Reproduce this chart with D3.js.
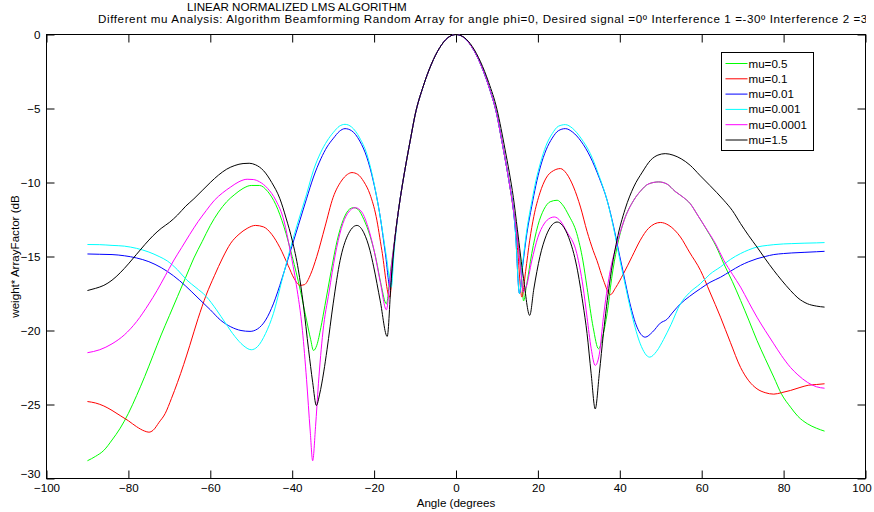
<!DOCTYPE html>
<html>
<head>
<meta charset="utf-8">
<script src="https://cdn.jsdelivr.net/npm/d3@7"></script>
<style>
  body { margin: 0; background: #fff; }
  text { font-family: "Liberation Sans", Arial, Helvetica, sans-serif; fill: #000; }
</style>
</head>
<body>
<svg id="chart" width="874" height="512"></svg>
<script>
// Axis ticks
const xTicks = [-100, -80, -60, -40, -20, 0, 20, 40, 60, 80, 100];
const yTicks = [0, -5, -10, -15, -20, -25, -30];

// Series labels and MATLAB-style colours (legend order)
const seriesNames = ["mu=0.5", "mu=0.1", "mu=0.01", "mu=0.001", "mu=0.0001", "mu=1.5"];
const seriesColors = ["#00ff00", "#ff0000", "#0000ff", "#00ffff", "#ff00ff", "#000000"];

// Main lobe shared by the smaller step sizes: [angle (deg), dB]
const mainLobe = [[-14,-11.8],[-13,-10.0],[-12,-8.4],[-11,-6.9],[-10,-5.45],[-8,-3.5],[-6,-2.0],[-4,-0.9],[-2,-0.22],[0,0],
  [2,-0.22],[4,-0.9],[6,-2.0],[8,-3.5],[10,-5.45],[11,-6.9],[12,-8.4],[13,-10.0],[14,-11.8]];
// Main lobe for mu = 1.5 (slightly wider on the positive side)
const mainLobeK = [[-14,-11.8],[-13,-10.0],[-12,-8.4],[-11,-6.9],[-10,-5.45],[-8,-3.5],[-6,-2.0],[-4,-0.9],[-2,-0.22],[0,0],
  [2,-0.2],[4,-0.82],[6,-1.85],[8,-3.25],[10,-5.05],[11,-6.35],[12,-7.8],[13,-9.3],[14,-11.0]];

// mu = 0.5
const mu05Left = [[-90,-28.8],[-88,-28.5],[-86,-28.1],[-84,-27.4],[-82,-26.6],[-80,-25.6],[-78,-24.4],[-76,-23.1],[-74,-21.7],[-72,-20.3],
  [-70,-19.0],[-68,-17.7],[-66,-16.4],[-64,-15.1],[-62,-14.0],[-60,-12.9],[-58,-12.0],[-56,-11.3],[-54,-10.8],[-52,-10.4],[-50,-10.2],
  [-48,-10.2],[-46,-10.6],[-44,-11.5],[-42,-13.0],[-40,-15.0],[-38,-17.3],[-36.5,-19.3],[-35.5,-20.6],[-34.8,-21.35],[-34,-21.0],
  [-33,-19.8],[-32,-18.3],[-30.5,-16.0],[-29,-13.9],[-27.5,-12.5],[-26,-11.8],[-25,-11.7],[-24,-11.8],[-22.5,-12.5],[-21,-13.6],
  [-19.5,-15.2],[-18.3,-16.9],[-17,-18.2],[-16,-16.0],[-15,-13.9]];
const mu05Right = [[15,-13.8],[16,-16.3],[16.5,-18.0],[17.2,-17.0],[18.5,-14.8],[20,-12.9],[21.5,-11.8],[23,-11.3],[24.7,-11.2],[26,-11.5],
  [27.5,-12.2],[29.5,-13.45],[31,-15.3],[32,-17.1],[33.5,-19.8],[34.8,-21.23],[36,-20.2],[36.9,-18.86],[38,-16.5],[39.3,-14.4],
  [41,-12.6],[43.4,-11.2],[45,-10.6],[47,-10.1],[49.5,-9.96],[51.5,-10.1],[53.5,-10.6],[55.5,-11.0],[57.2,-11.43],[59,-12.2],
  [61.3,-13.23],[63.5,-14.3],[65.4,-15.49],[67.5,-16.7],[69.5,-17.97],[71.5,-19.3],[73.5,-20.67],[75.5,-21.9],[77.6,-23.15],
  [79.5,-24.3],[81.7,-25.18],[83.5,-25.8],[85.8,-26.3],[88,-26.6],[90,-26.8]];

// mu = 0.1
const mu01Left = [[-90,-24.8],[-88,-24.9],[-86,-25.1],[-84,-25.4],[-82,-25.75],[-80,-26.1],[-78,-26.5],[-76,-26.8],[-75,-26.87],[-74,-26.75],
  [-72.5,-26.2],[-71,-25.6],[-69.5,-24.6],[-68,-23.5],[-66.5,-22.3],[-65,-21.0],[-63,-19.2],[-61,-17.6],[-59,-16.3],[-57,-15.1],
  [-55,-14.1],[-53,-13.5],[-51,-13.1],[-49,-12.9],[-47,-13.0],[-45,-13.5],[-43,-14.4],[-41,-15.6],[-39.5,-16.5],[-38.1,-16.95],
  [-37,-16.9],[-35.5,-16.2],[-34,-15.0],[-32,-13.0],[-30,-11.0],[-28,-9.9],[-26.5,-9.45],[-25.4,-9.33],[-24,-9.45],[-22.5,-9.95],
  [-21,-10.8],[-19.5,-12.3],[-18.1,-14.6],[-16.2,-17.74],[-15.2,-14.6]];
const mu01Right = [[15,-14.4],[16.1,-17.74],[17,-16.0],[18,-13.9],[19,-12.3],[20.5,-10.7],[22,-9.7],[23.8,-9.2],[25.5,-9.06],[27,-9.4],
  [28.7,-10.3],[30.4,-11.66],[32,-13.3],[33.5,-14.6],[34.4,-15.26],[36,-16.6],[37.7,-17.58],[39,-17.1],[40.9,-16.16],[43,-15.0],
  [45,-13.9],[47,-13.1],[49.9,-12.7],[52,-12.9],[54.8,-13.68],[57,-14.7],[59.7,-15.94],[62,-17.4],[64.6,-19.1],[67,-20.8],
  [69.5,-22.5],[71.5,-23.4],[73.5,-23.94],[75.5,-24.2],[77.6,-24.3],[79.5,-24.2],[81.7,-24.05],[84,-23.85],[86,-23.7],[88,-23.65],[90,-23.6]];

// mu = 0.01
const mu001Left = [[-90,-14.83],[-87,-14.85],[-84,-14.87],[-81,-14.95],[-78,-15.1],[-75,-15.35],[-72,-15.75],[-69,-16.3],[-66,-17.0],
  [-63,-17.8],[-60,-18.6],[-57.5,-19.3],[-55,-19.75],[-52.5,-20.0],[-50.3,-20.06],[-48.5,-19.9],[-46.5,-19.3],[-44.6,-18.2],
  [-42.5,-16.5],[-40.5,-14.7],[-38.5,-12.9],[-36.5,-11.1],[-34.8,-9.63],[-33,-8.4],[-31.5,-7.6],[-29.9,-7.0],[-28.5,-6.55],
  [-27.1,-6.36],[-25.5,-6.5],[-23.5,-7.2],[-21.8,-8.27],[-20.2,-9.9],[-18.5,-12.33],[-17.2,-14.9],[-16.1,-17.07],[-15.2,-14.5]];
const mu001Right = [[14.5,-13.3],[15.5,-17.5],[16.3,-15.6],[17.3,-13.45],[18.5,-11.6],[19.5,-10.2],[20.6,-8.95],[22,-7.8],[23.5,-7.0],
  [25,-6.5],[26.7,-6.36],[28.5,-6.6],[30.5,-7.2],[32.8,-8.27],[35,-9.7],[36.9,-11.2],[38.5,-13.0],[40,-15.0],[40.9,-16.16],
  [42.5,-18.2],[44.2,-19.77],[46.2,-20.45],[48,-20.1],[49.9,-19.5],[51.5,-19.25],[53,-18.75],[54.8,-18.2],[57,-17.7],[59.7,-17.17],
  [62,-16.75],[64.6,-16.4],[67,-16.0],[69.5,-15.6],[71.5,-15.35],[73.5,-15.15],[75.5,-15.0],[77.6,-14.87],[80,-14.8],[82,-14.76],
  [85,-14.72],[88,-14.68],[90,-14.65]];

// mu = 0.001
const mu0001Left = [[-90,-14.19],[-87,-14.2],[-84,-14.25],[-81,-14.3],[-78,-14.45],[-75,-14.7],[-72.5,-15.0],[-70.5,-15.3],[-68,-15.9],
  [-65.7,-16.6],[-63.5,-17.1],[-61,-17.7],[-58.5,-18.6],[-56.3,-19.5],[-54,-20.4],[-52,-21.0],[-50,-21.3],[-48.5,-21.1],[-46.5,-20.2],
  [-44.6,-18.86],[-42.5,-16.6],[-40.5,-14.5],[-38.5,-12.6],[-36.5,-10.8],[-34.8,-9.17],[-33,-7.95],[-31.5,-7.2],[-29.9,-6.6],
  [-28.5,-6.2],[-27.1,-6.07],[-25.5,-6.25],[-23.5,-7.0],[-21.8,-8.05],[-20.2,-9.8],[-18.5,-12.33],[-17,-15.0],[-15.8,-17.07],[-15.1,-14.6]];
const mu0001Right = [[14.5,-13.3],[15.5,-17.5],[16.3,-15.4],[17.3,-13.2],[18.5,-11.3],[19.5,-9.9],[20.6,-8.7],[22,-7.5],[23.5,-6.7],
  [25,-6.2],[26.7,-6.09],[28.5,-6.35],[30.5,-7.0],[32.8,-8.05],[35,-9.6],[36.9,-11.2],[38.5,-13.1],[40,-15.2],[41,-16.5],[43,-19.0],
  [45,-20.9],[47.3,-21.8],[49,-21.4],[50.7,-20.6],[52.5,-19.6],[54.8,-18.2],[57,-17.45],[59.7,-16.83],[62,-16.2],[64.6,-15.7],
  [67,-15.2],[69.5,-14.8],[71.5,-14.55],[73.5,-14.36],[76,-14.25],[77.6,-14.2],[80,-14.15],[82,-14.13],[85,-14.1],[88,-14.08],[90,-14.06]];

// mu = 0.0001
const mu00001Left = [[-90,-21.5],[-87,-21.3],[-84,-20.9],[-81,-20.3],[-78,-19.4],[-75,-18.2],[-73,-17.3],[-71,-16.3],[-69,-15.3],
  [-67,-14.4],[-65,-13.5],[-63,-12.65],[-61,-11.9],[-59,-11.2],[-57,-10.7],[-55,-10.3],[-53,-9.95],[-51,-9.78],[-49.5,-9.8],
  [-48,-9.95],[-46,-10.4],[-44,-11.2],[-42,-12.6],[-40.5,-14.6],[-39,-16.9],[-37.5,-20.0],[-36.5,-23.3],[-35.6,-26.8],[-35,-28.8],
  [-34.3,-26.5],[-33.6,-23.6],[-32.5,-20.1],[-31,-17.4],[-29.5,-14.9],[-28,-13.1],[-26.5,-12.1],[-24.6,-11.7],[-23,-12.0],
  [-21.5,-13.0],[-20,-14.6],[-18.5,-16.7],[-17,-18.6],[-16,-16.2],[-15,-13.9]];
const mu00001Right = [[15,-13.8],[16,-16.5],[16.4,-17.4],[17.2,-17.0],[18.5,-15.3],[20,-13.7],[21.5,-12.8],[23,-12.4],[24,-12.33],
  [25.5,-12.6],[27,-13.3],[29.5,-14.8],[31,-17.0],[32,-19.1],[33,-21.2],[34,-22.36],[35,-21.6],[36,-19.1],[37.5,-16.2],[39.3,-14.13],
  [41,-12.6],[43.4,-11.2],[45,-10.6],[47,-10.1],[49.5,-9.96],[51.5,-10.1],[53.5,-10.6],[55.5,-11.0],[57.2,-11.43],[59,-12.2],
  [61.3,-13.2],[63.5,-14.2],[65.4,-15.26],[67.5,-16.2],[69.5,-17.07],[71.5,-18.1],[73.5,-19.1],[75.5,-20.0],[77.6,-20.9],
  [79.5,-21.7],[81.7,-22.5],[83.5,-23.0],[85.8,-23.5],[88,-23.8],[90,-23.9]];

// mu = 1.5
const mu15Left = [[-90,-17.3],[-88,-17.15],[-86,-16.95],[-84,-16.6],[-82,-16.1],[-80,-15.5],[-78,-14.85],[-76,-14.2],[-74,-13.6],
  [-72,-13.1],[-70,-12.7],[-68,-12.2],[-66,-11.6],[-64,-11.1],[-62,-10.55],[-60,-10.0],[-58,-9.5],[-56,-9.1],[-54,-8.85],[-52,-8.72],
  [-50.5,-8.7],[-49,-8.8],[-47,-9.2],[-45,-10.0],[-43,-11.1],[-41.5,-12.4],[-40,-13.9],[-38.5,-15.9],[-37.3,-18.2],[-36,-21.3],
  [-35,-23.5],[-34.1,-25.07],[-33.3,-24.3],[-32.3,-22.8],[-31.5,-21.3],[-30,-18.2],[-28.3,-15.26],[-26.5,-13.6],[-24.2,-12.9],
  [-22.5,-13.4],[-21,-14.6],[-20.1,-15.7],[-18.5,-18.0],[-16.8,-20.4],[-15.8,-16.5],[-15,-14.0]];
const mu15Right = [[15,-13.2],[16.5,-16.5],[18,-18.98],[19,-17.2],[20.5,-15.0],[22,-13.6],[23.5,-12.85],[24.7,-12.67],[26,-12.9],
  [27.5,-13.7],[29.5,-15.7],[31,-18.2],[32,-20.2],[33,-22.9],[34,-25.3],[35,-22.9],[36,-20.2],[37.5,-16.8],[39.3,-13.9],[41.3,-11.8],
  [43.4,-10.3],[45.5,-9.3],[47.5,-8.5],[49.3,-8.15],[51.1,-8.05],[53,-8.15],[55,-8.4],[57.2,-8.84],[59.5,-9.5],[62,-10.2],
  [65.4,-11.2],[67.5,-11.9],[69.5,-12.78],[71.5,-13.6],[73.5,-14.36],[75.5,-15.15],[77.6,-15.94],[79.5,-16.6],[81.7,-17.3],
  [83.5,-17.8],[85.8,-18.19],[88,-18.35],[90,-18.42]];

const seriesData = [
  [...mu05Left, ...mainLobe, ...mu05Right],
  [...mu01Left, ...mainLobe, ...mu01Right],
  [...mu001Left, ...mainLobe, ...mu001Right],
  [...mu0001Left, ...mainLobe, ...mu0001Right],
  [...mu00001Left, ...mainLobe, ...mu00001Right],
  [...mu15Left, ...mainLobeK, ...mu15Right]
];

const titleLine1 = "LINEAR NORMALIZED LMS ALGORITHM";
const titleLine2 = "Different mu Analysis: Algorithm Beamforming Random Array for angle phi=0, Desired signal =0\u00ba Interference 1 =-30\u00ba Interference 2 =30\u00ba";
const xLabel = "Angle (degrees";
const yLabel = "weight* ArrayFactor (dB";

const svg = d3.select("#chart");
const W = 874, H = 512;
const plotL = 46.5, plotR = 865.5, plotT = 34.5, plotB = 478.5;
const fs = "11.6px";

const x = d3.scaleLinear().domain([-100, 100]).range([plotL, plotR]);
const y = d3.scaleLinear().domain([-30, 0]).range([plotB, plotT]);

svg.append("rect").attr("width", W).attr("height", H).attr("fill", "#fff");

// clip for the subtitle, which runs off the figure edge
svg.append("clipPath").attr("id", "figclip")
  .append("rect").attr("x", 0).attr("y", 0).attr("width", 866).attr("height", H);

// axes with inward ticks on all four sides
function styleAxis(g) {
  g.selectAll(".domain").remove();
  g.selectAll(".tick line").attr("stroke", "#000").attr("stroke-width", 1);
  g.selectAll("text").attr("font-size", fs).attr("font-family", "'Liberation Sans', Arial, sans-serif").attr("fill", "#000");
}

const xAxisG = svg.append("g").attr("transform", `translate(0,${plotB})`)
  .call(d3.axisBottom(x).tickValues(xTicks).tickSize(-8).tickPadding(5).tickFormat(d3.format("d")))
  .call(styleAxis);
// last x label sits a little inside the figure edge
xAxisG.selectAll(".tick").filter(d => d === 100).select("text").attr("dx", -4);

svg.append("g").attr("transform", `translate(0,${plotT})`)
  .call(d3.axisTop(x).tickValues(xTicks).tickSize(-8).tickFormat(""))
  .call(styleAxis);

const yAxisG = svg.append("g").attr("transform", `translate(${plotL},0)`)
  .call(d3.axisLeft(y).tickValues(yTicks).tickSize(-8).tickPadding(6).tickFormat(d3.format("d")))
  .call(styleAxis);
// bottom y label is lifted clear of the corner
yAxisG.selectAll(".tick").filter(d => d === -30).select("text").attr("dy", "-0.05em");

svg.append("g").attr("transform", `translate(${plotR},0)`)
  .call(d3.axisRight(y).tickValues(yTicks).tickSize(-8).tickFormat(""))
  .call(styleAxis);

// plot box
svg.append("rect")
  .attr("x", plotL).attr("y", plotT).attr("width", plotR - plotL).attr("height", plotB - plotT)
  .attr("fill", "none").attr("stroke", "#000").attr("stroke-width", 1);

// curves
const line = d3.line().x(d => x(d[0])).y(d => y(d[1])).curve(d3.curveMonotoneX);
const plot = svg.append("g");
seriesData.forEach((pts, i) => {
  plot.append("path").datum(pts)
    .attr("d", line)
    .attr("fill", "none")
    .attr("stroke", seriesColors[i])
    .attr("stroke-width", 1);
});

// titles and labels
const titles = svg.append("g").attr("clip-path", "url(#figclip)");
titles.append("text").attr("x", 187).attr("y", 10.5).attr("font-size", fs).text(titleLine1);
titles.append("text").attr("x", 98).attr("y", 23).attr("font-size", fs)
  .attr("letter-spacing", "0.6px").text(titleLine2);

svg.append("text").attr("x", (plotL + plotR) / 2).attr("y", 507)
  .attr("text-anchor", "middle").attr("font-size", fs).text(xLabel);
svg.append("text").attr("transform", `translate(19,${(plotT + plotB) / 2}) rotate(-90)`)
  .attr("text-anchor", "middle").attr("font-size", fs).text(yLabel);

// legend
const lgX = 721.5, lgY = 52.5, lgW = 92, lgH = 98, lgStep = 15.3;
const legend = svg.append("g");
legend.append("rect").attr("x", lgX).attr("y", lgY).attr("width", lgW).attr("height", lgH)
  .attr("fill", "#fff").attr("stroke", "#000").attr("stroke-width", 1);
seriesNames.forEach((name, i) => {
  const cy = lgY + 11 + i * lgStep;
  legend.append("line").attr("x1", lgX + 4).attr("x2", lgX + 26).attr("y1", cy).attr("y2", cy)
    .attr("stroke", seriesColors[i]).attr("stroke-width", 1);
  legend.append("text").attr("x", lgX + 27).attr("y", cy + 4).attr("font-size", fs).text(name);
});
</script>
</body>
</html>
